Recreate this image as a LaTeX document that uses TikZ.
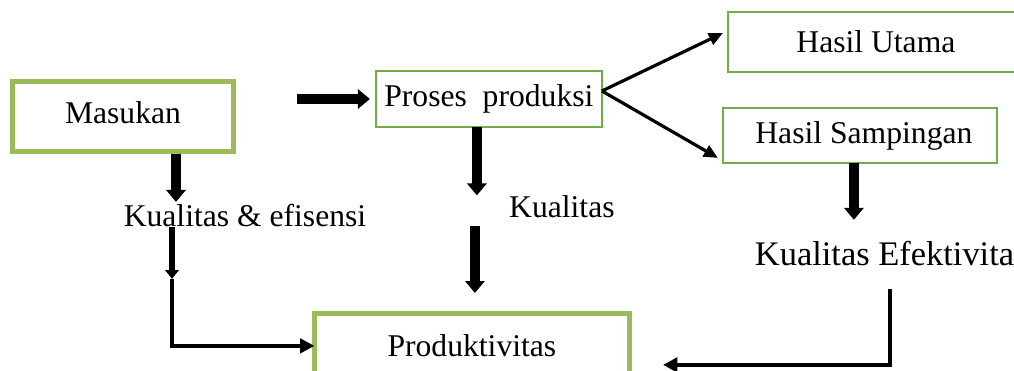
\documentclass[tikz,border=0pt]{standalone}
\usepackage{fontspec}
\setmainfont{Liberation Serif}
\usetikzlibrary{arrows.meta,positioning}

\definecolor{boxgreen}{HTML}{9BBB59}
\definecolor{linegreen}{HTML}{70AD47}

\begin{document}
\begin{tikzpicture}[
  font=\fontsize{22.5}{27}\selectfont,
  thickbox/.style={draw=boxgreen, line width=1.25mm, align=center, outer sep=0pt, fill=white},
  thinbox/.style={draw=linegreen, line width=0.55mm, align=center, outer sep=0pt, fill=white},
  lbl/.style={inner sep=0pt, outer sep=0pt},
  fat/.style={-{Triangle[length=3mm, width=4.8mm]}, line width=2.4mm},
  mid/.style={-{Triangle[length=2.2mm, width=3.3mm]}, line width=1.5mm},
  thinarrow/.style={-{Triangle[length=3.5mm, width=3.1mm]}, line width=0.8mm},
  flow/.style={-{Triangle[length=3.6mm, width=3.6mm]}, line width=1mm}
]
\useasboundingbox (0,0) rectangle (253.5mm,-92.75mm);

\node[thickbox, minimum width=55.25mm, minimum height=17.5mm, text depth=2.2mm] (masukan) at (30.75mm,-29.125mm) {Masukan};
\node[thinbox, minimum width=56.5mm, minimum height=14mm, right=35.6mm of masukan, yshift=4.375mm]
  (proses) {Proses\ \ produksi};
\node[thinbox, line width=0.7mm, minimum width=74mm, minimum height=15mm, right=31.5mm of proses, yshift=14.25mm]
  (utama) {Hasil Utama};
\node[thinbox, line width=0.7mm, minimum width=68.5mm, minimum height=13.75mm, right=30.25mm of proses, yshift=-9.125mm]
  (sampingan) {\hspace*{2mm}Hasil Sampingan};
\node[thickbox, minimum width=78.75mm, minimum height=16.25mm, below=46.6mm of proses, xshift=-4.25mm]
  (produktivitas) {Produktivitas};

% labels between the boxes
\node[lbl, below=13.2mm of masukan, xshift=30.5mm] (ke) {Kualitas \& efisensi};
\node[lbl, below=17.1mm of proses, xshift=18.25mm] (kp) {Kualitas};
\node[lbl, font=\fontsize{24.5}{29}\selectfont, anchor=north west, below right=19.5mm and 8mm of sampingan.south west]
  (kef) {Kualitas Efektivita};

\coordinate (kestart) at ([xshift=12.25mm]masukan.south |- ke.south);
\coordinate[below=13mm of kestart] (ketip);

\draw[fat, shorten <=15.9mm, shorten >=1.5mm] (masukan.east |- proses.west) -- (proses.west);
\draw[thinarrow] ([yshift=2mm]proses.east) -- ([xshift=-1.25mm, yshift=2.25mm]utama.west);
\draw[thinarrow] ([yshift=2mm]proses.east) -- ([xshift=-1.25mm, yshift=-5.6mm]sampingan.west);

\draw[fat, shorten <=0.6mm, shorten >=0.6mm] ([xshift=13.25mm]masukan.south) -- ([xshift=13.25mm]masukan.south |- ke.north);
\draw[mid] (kestart) -- (ketip);
\draw[flow] (ketip) |- (produktivitas.west);

\draw[fat] ([xshift=-3mm]proses.south) -- ([xshift=-3mm]proses.south |- kp.north);
\draw[fat, shorten <=2mm, shorten >=5.1mm] ([xshift=-3.5mm]proses.south |- kp.south) -- ([xshift=-3.5mm]proses.south |- produktivitas.north);

\draw[fat, shorten >=5.3mm] ([xshift=-1.5mm]sampingan.south) -- ([xshift=-1.5mm]sampingan.south |- kef.north);
\draw[flow, shorten <=5.75mm, shorten >=8.4mm] ([xshift=7.5mm]sampingan.south |- kef.south) |- ([yshift=-4.75mm]produktivitas.east);

\end{tikzpicture}
\end{document}
